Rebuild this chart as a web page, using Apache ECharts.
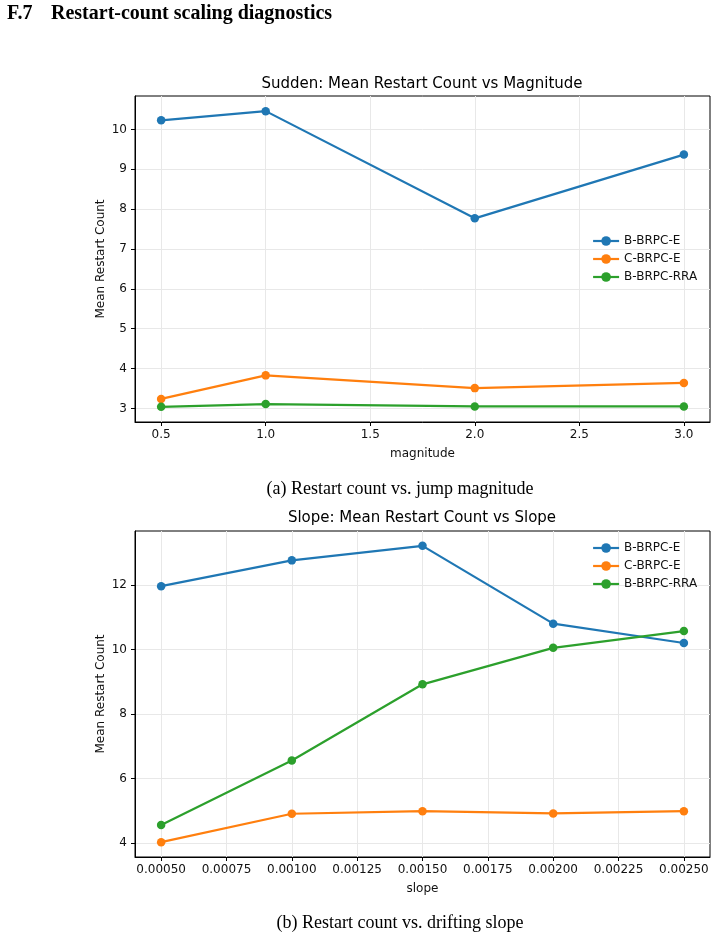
<!DOCTYPE html>
<html>
<head>
<meta charset="utf-8">
<title>Restart-count scaling diagnostics</title>
<script src="https://cdn.jsdelivr.net/npm/echarts@6/dist/echarts.min.js"></script>
<style>
  html, body {
    margin: 0;
    padding: 0;
    background: #fff;
  }
  #main {
    width: 717px;
    height: 940px;
  }
</style>
</head>
<body>
<div id="main"></div>
<script>
  // 数据：上图（突变幅度）
  var magnitudes = [0.5, 1.0, 2.0, 3.0];
  var suddenBE = [10.23, 10.46, 7.77, 9.37];
  var suddenCE = [3.24, 3.83, 3.51, 3.64];
  var suddenBRRA = [3.04, 3.11, 3.05, 3.05];
  var magTicks = [0.5, 1.0, 1.5, 2.0, 2.5, 3.0];
  var suddenYTicks = [3, 4, 5, 6, 7, 8, 9, 10];

  // 数据：下图（漂移斜率）
  var slopes = [0.0005, 0.001, 0.0015, 0.002, 0.0025];
  var slopeBE = [11.96, 12.76, 13.21, 10.80, 10.20];
  var slopeCE = [4.03, 4.91, 4.99, 4.92, 4.99];
  var slopeBRRA = [4.56, 6.56, 8.92, 10.05, 10.57];
  var slopeTicks = [0.0005, 0.00075, 0.001, 0.00125, 0.0015, 0.00175, 0.002, 0.00225, 0.0025];
  var slopeYTicks = [4, 6, 8, 10, 12];

  var names = ['B-BRPC-E', 'C-BRPC-E', 'B-BRPC-RRA'];
  var colors = ['#1f77b4', '#ff7f0e', '#2ca02c'];

  var sans = 'DejaVu Sans';
  var serif = 'Liberation Serif';

  function pairs (xs, ys) {
    return xs.map(function (x, i) { return [x, ys[i]]; });
  }

  function lineSeries (name, idx, data) {
    return {
      name: name,
      type: 'line',
      xAxisIndex: idx,
      yAxisIndex: idx,
      data: data,
      symbol: 'circle',
      symbolSize: 8.5,
      lineStyle: { width: 2.2 },
      emphasis: { disabled: true },
      animation: false
    };
  }

  function xAxisOf (idx, name, min, max, ticks, digits) {
    return {
      type: 'value',
      gridIndex: idx,
      min: min,
      max: max,
      name: name,
      nameLocation: 'middle',
      nameGap: 26,
      nameMoveOverlap: false,
      nameTextStyle: { fontFamily: sans, fontSize: 12, color: '#111' },
      axisLine: { show: true, onZero: false, lineStyle: { color: '#000', width: 1 } },
      axisTick: { show: true, length: 4, lineStyle: { color: '#000' }, customValues: ticks },
      axisLabel: {
        margin: 7,
        fontFamily: sans,
        fontSize: 12,
        color: '#111',
        customValues: ticks,
        formatter: function (v) { return v.toFixed(digits); }
      },
      splitLine: { show: true, lineStyle: { color: '#e8e8e8', width: 1 } }
    };
  }

  function yAxisOf (idx, min, max, ticks) {
    return {
      type: 'value',
      gridIndex: idx,
      min: min,
      max: max,
      name: 'Mean Restart Count',
      nameLocation: 'middle',
      nameGap: 28,
      nameMoveOverlap: false,
      nameTextStyle: { fontFamily: sans, fontSize: 12, color: '#111' },
      axisLine: { show: true, onZero: false, lineStyle: { color: '#000', width: 1 } },
      axisTick: { show: true, length: 4, lineStyle: { color: '#000' }, customValues: ticks },
      axisLabel: {
        margin: 8,
        fontFamily: sans,
        fontSize: 12,
        color: '#111',
        customValues: ticks
      },
      splitLine: { show: true, lineStyle: { color: '#e8e8e8', width: 1 } }
    };
  }

  function legendOf (top) {
    return {
      data: names,
      orient: 'vertical',
      left: 587,
      top: top,
      itemWidth: 26,
      itemHeight: 12,
      itemGap: 4,
      lineStyle: { width: 2.2 },
      textStyle: { fontFamily: sans, fontSize: 12, color: '#111', lineHeight: 14 },
      selectedMode: false
    };
  }

  function label (text, x, y, font) {
    return {
      type: 'text',
      x: x,
      y: y,
      style: {
        text: text,
        font: font,
        fill: '#000',
        textAlign: 'center',
        textVerticalAlign: 'middle'
      }
    };
  }

  var myChart = echarts.init(document.getElementById('main'));

  var option = {
    backgroundColor: '#fff',
    color: colors,
    animation: false,
    grid: [
      { left: 135, right: 7, top: 96, height: 326, show: true, borderColor: '#000', borderWidth: 1 },
      { left: 135, right: 7, top: 531, height: 326, show: true, borderColor: '#000', borderWidth: 1 }
    ],
    xAxis: [
      xAxisOf(0, 'magnitude', 0.375, 3.125, magTicks, 1),
      xAxisOf(1, 'slope', 0.0004, 0.0026, slopeTicks, 5)
    ],
    yAxis: [
      yAxisOf(0, 2.66, 10.84, suddenYTicks),
      yAxisOf(1, 3.57, 13.67, slopeYTicks)
    ],
    legend: [legendOf(229), legendOf(536)],
    graphic: [
      {
        type: 'text',
        x: 7,
        y: 14,
        style: { text: 'F.7', font: 'bold 20px "' + serif + '"', fill: '#000', textVerticalAlign: 'middle' }
      },
      {
        type: 'text',
        x: 51,
        y: 14,
        style: { text: 'Restart-count scaling diagnostics', font: 'bold 20px "' + serif + '"', fill: '#000', textVerticalAlign: 'middle' }
      },
      label('Sudden: Mean Restart Count vs Magnitude', 422, 84, '15px "' + sans + '"'),
      label('(a) Restart count vs. jump magnitude', 400, 489, '18px "' + serif + '"'),
      label('Slope: Mean Restart Count vs Slope', 422, 518, '15px "' + sans + '"'),
      label('(b) Restart count vs. drifting slope', 400, 923, '18px "' + serif + '"')
    ],
    series: [
      lineSeries(names[0], 0, pairs(magnitudes, suddenBE)),
      lineSeries(names[1], 0, pairs(magnitudes, suddenCE)),
      lineSeries(names[2], 0, pairs(magnitudes, suddenBRRA)),
      lineSeries(names[0], 1, pairs(slopes, slopeBE)),
      lineSeries(names[1], 1, pairs(slopes, slopeCE)),
      lineSeries(names[2], 1, pairs(slopes, slopeBRRA))
    ]
  };

  myChart.setOption(option);
</script>
</body>
</html>
